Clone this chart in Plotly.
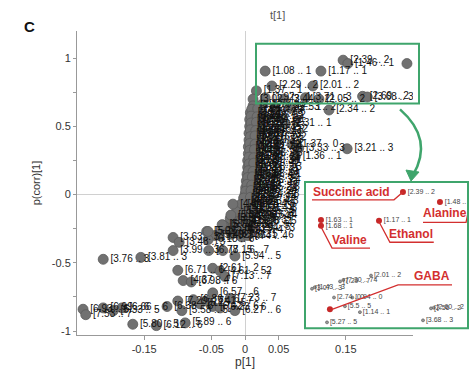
import plotly.graph_objects as go

W, H = 470, 369

# ---------------- main S-plot data ----------------
top_x = [0.030, 0.113, 0.146, 0.153, 0.241]
top_y = [0.905, 0.905, 0.985, 0.96, 0.96]
top_lbl = ["[1.08 .. 1", "[1.17 .. 1", "[2.39 .. 2", "[1.46 .. 1", "[1.48 .. 1"]

upper_x = [0.017, 0.040, 0.101, 0.012, 0.030, 0.058, 0.09, 0.11, 0.175, 0.182,
           0.012, 0.025, 0.045, 0.067, 0.125, 0.06, 0.07, 0.08, 0.075, 0.152]
upper_y = [0.76, 0.796, 0.796, 0.70, 0.71, 0.70, 0.71, 0.70, 0.72, 0.715,
           0.65, 0.66, 0.64, 0.635, 0.62, 0.52, 0.37, 0.34, 0.28, 0.336]
upper_lbl = ["[1.37 .. 1", "[2.29 .. 2", "[2.01 .. 2", "[3.02 .. 3", "[1.92 .. 1",
             "[2.44 .. 2", "[3.71 .. 3", "[2.05 .. 2", "[2.69 .. 2", "[3.68 .. 3",
             "[3.12 .. 3", "[2.73 .. 2", "[1.35 .. 1", "[2.53 .. 2", "[2.34 .. 2",
             "[2.31 .. 1", "[1.37 .. 0", "[3.33 .. 3", "[1.36 .. 1", "[3.21 .. 3"]

core_x = [0.008, 0.012, 0.017, 0.022,
          0.007, 0.011, 0.016, 0.021,
          0.007, 0.011, 0.015, 0.020, 0.025,
          0.006, 0.010, 0.015, 0.019,
          0.006, 0.010, 0.014, 0.018, 0.023,
          0.005, 0.009, 0.014, 0.018,
          0.005, 0.009, 0.013, 0.017,
          0.004, 0.008, 0.012, 0.016,
          0.004, 0.008, 0.012, 0.016,
          0.003, 0.007, 0.011, 0.015,
          0.002, 0.006, 0.010, 0.014,
          0.001, 0.005, 0.009, 0.013,
          0.000, 0.004, 0.008, 0.012,
          -0.002, 0.003, 0.007, 0.011,
          -0.005, 0.001, 0.006, 0.010,
          -0.010, -0.002, 0.004, 0.009,
          -0.018, -0.006, 0.002, 0.008,
          -0.028, -0.012, -0.001, 0.006,
          -0.038, -0.020, -0.005, 0.004]
core_y = [0.60, 0.59, 0.61, 0.58,
          0.55, 0.56, 0.54, 0.55,
          0.50, 0.49, 0.51, 0.50, 0.48,
          0.45, 0.46, 0.44, 0.45,
          0.40, 0.41, 0.39, 0.40, 0.42,
          0.35, 0.34, 0.36, 0.35,
          0.30, 0.31, 0.29, 0.30,
          0.25, 0.24, 0.26, 0.25,
          0.20, 0.21, 0.19, 0.20,
          0.15, 0.14, 0.16, 0.15,
          0.10, 0.11, 0.09, 0.10,
          0.05, 0.04, 0.06, 0.05,
          0.00, 0.01, -0.01, 0.00,
          -0.05, -0.06, -0.04, -0.05,
          -0.10, -0.09, -0.11, -0.10,
          -0.15, -0.16, -0.14, -0.15,
          -0.20, -0.19, -0.21, -0.20,
          -0.25, -0.26, -0.24, -0.25,
          -0.30, -0.29, -0.31, -0.30]
core_lbl = ["[2.12 .. 2", "[1.91 .. 1", "[3.26 .. 3", "[2.06 .. 2",
            "[1.29 .. 1", "[3.41 .. 3", "[2.48 .. 2", "[1.74 .. 1",
            "[3.55 .. 3", "[2.67 .. 2", "[1.22 .. 1", "[3.93 .. 3", "[2.15 .. 2",
            "[4.02 .. 4", "[1.53 .. 1", "[3.37 .. 3", "[2.88 .. 2",
            "[3.14 .. 3", "[2.21 .. 2", "[1.87 .. 1", "[3.59 .. 3", "[2.76 .. 2",
            "[1.41 .. 1", "[3.85 .. 3", "[2.93 .. 2", "[4.11 .. 4",
            "[2.57 .. 2", "[3.03 .. 3", "[1.66 .. 1", "[3.46 .. 3",
            "[3.72 .. 3", "[2.39 .. 2", "[4.25 .. 4", "[1.99 .. 1",
            "[2.83 .. 2", "[3.66 .. 3", "[1.31 .. 1", "[3.18 .. 3",
            "[4.33 .. 4", "[2.64 .. 2", "[3.52 .. 3", "[1.58 .. 1",
            "[3.09 .. 3", "[2.95 .. 2", "[3.78 .. 3", "[4.06 .. 4",
            "[2.45 .. 2", "[3.89 .. 3", "[1.82 .. 1", "[3.35 .. 3",
            "[3.96 .. 3", "[4.17 .. 4", "[2.72 .. 2", "[3.24 .. 3",
            "[4.45 .. 4", "[3.61 .. 3", "[2.87 .. 2", "[3.43 .. 3",
            "[4.21 .. 4", "[3.75 .. 3", "[4.58 .. 4", "[3.11 .. 3",
            "[5.12 .. 5", "[4.09 .. 4", "[3.83 .. 3", "[4.66 .. 4",
            "[5.41 .. 5", "[3.57 .. 3", "[4.38 .. 4", "[5.08 .. 5",
            "[5.66 .. 5", "[4.91 .. 4", "[5.23 .. 5", "[3.94 .. 3",
            "[6.02 .. 6", "[5.37 .. 5", "[4.74 .. 4", "[6.31 .. 6"]

mid_x = [0.010, 0.019, 0.009, 0.018, 0.009, 0.017, 0.008, 0.016, 0.008, 0.015,
         0.007, 0.015, 0.007, 0.014, 0.006, 0.013, 0.006, 0.013, 0.005, 0.012,
         0.004, 0.011, 0.003, 0.010, 0.001, 0.009, -0.002, 0.008, -0.007, 0.006,
         -0.013, 0.004, -0.022, 0.001, -0.032, -0.003]
mid_y = [0.625, 0.63, 0.575, 0.57, 0.525, 0.53, 0.475, 0.47, 0.425, 0.43,
         0.375, 0.37, 0.325, 0.33, 0.275, 0.27, 0.225, 0.23, 0.175, 0.17,
         0.125, 0.13, 0.075, 0.07, 0.025, 0.03, -0.025, -0.02, -0.075, -0.07,
         -0.125, -0.13, -0.175, -0.17, -0.225, -0.23]
mid_lbl = ["[2.26 .. 2", "[3.17 .. 3", "[1.44 .. 1", "[2.98 .. 2", "[3.32 .. 3", "[2.11 .. 2",
           "[1.77 .. 1", "[3.64 .. 3", "[2.52 .. 2", "[3.07 .. 3", "[4.14 .. 4", "[2.36 .. 2",
           "[3.49 .. 3", "[1.95 .. 1", "[2.79 .. 2", "[3.87 .. 3", "[4.29 .. 4", "[2.61 .. 2",
           "[3.21 .. 3", "[1.62 .. 1", "[3.98 .. 3", "[2.47 .. 2", "[4.41 .. 4", "[3.53 .. 3",
           "[2.91 .. 2", "[4.05 .. 4", "[3.69 .. 3", "[4.52 .. 4", "[4.87 .. 4", "[3.28 .. 3",
           "[5.19 .. 5", "[4.63 .. 4", "[5.55 .. 5", "[4.96 .. 4", "[5.84 .. 5", "[5.02 .. 5"]

lower_x = [-0.018, -0.021, -0.034, -0.057, -0.045, -0.055,
           -0.211, -0.155, -0.107, -0.098, -0.107, -0.055, -0.054, -0.033, -0.015,
           -0.100, -0.092, -0.080, -0.048, -0.037, -0.030, -0.048,
           -0.241, -0.237, -0.211, -0.196, -0.183, -0.167, -0.132, -0.116,
           -0.100, -0.094, -0.089, -0.077, -0.067, -0.057, -0.048, -0.037, -0.022, -0.015]
lower_y = [-0.07, -0.15, -0.22, -0.27, -0.30, -0.33,
           -0.474, -0.46, -0.314, -0.35, -0.41, -0.27, -0.41, -0.41, -0.45,
           -0.555, -0.63, -0.64, -0.54, -0.56, -0.60, -0.72,
           -0.84, -0.88, -0.83, -0.85, -0.83, -0.95, -0.96, -0.82,
           -0.78, -0.85, -0.94, -0.77, -0.80, -0.78, -0.82, -0.83, -0.76, -0.85]
lower_lbl = ["[4.88 .. 4", "[5.31 .. 5", "[5.72 .. 5", "[5.02 .. 5", "[5.49 .. 5", "[6.18 .. 6",
             "[3.76 .. 3", "[3.81 .. 3", "[3.63 .. 3", "[3.48 .. 3", "[3.99 .. 3", "[5.16 .. 6",
             "[6.78 .. 6", "[7.15 .. 7", "[5.94 .. 5",
             "[6.71 .. 6", "[4.37 .. 4", "[6.98 .. 6", "[2.61 .. 2", "[4.61 .. 52", "[7.13 .. 7", "[6.57 .. 6",
             "[6.93 .. 6", "[7.53 .. 7", "[6.99 .. 6", "[5.33 .. 5", "[6.66 .. 6", "[5.80 .. 5",
             "[6.12 .. 6", "[6.38 .. 6",
             "[7.29 .. 7", "[5.58 .. 5", "[5.89 .. 6", "[6.86 .. 6", "[5.25 .. 5", "[7.41 .. 7",
             "[6.42 .. 6", "[6.23 .. 6", "[7.23 .. 7", "[6.27 .. 6"]

# ---------------- inset data (zoomed view, inset units 0..1) ----------------
red_u = [0.601, 0.098, 0.098, 0.454, 0.828, 0.153]
red_v = [0.932, 0.741, 0.700, 0.735, 0.864, 0.129]
red_lbl = ["[2.39 .. 2", "[1.63 .. 1", "[1.68 .. 1", "[1.17 .. 1", "[1.48 .. 1", ""]

dot_u = [0.215, 0.235, 0.405, 0.043, 0.060, 0.178, 0.290, 0.245, 0.337, 0.135, 0.773, 0.790, 0.724]
dot_v = [0.320, 0.330, 0.360, 0.270, 0.280, 0.210, 0.210, 0.150, 0.110, 0.040, 0.136, 0.140, 0.054]
dot_lbl = ["[7.29 .. 7", "[7.30 .. 74", "[2.01 .. 2", "[3.07 .. 3", "[1.43 .. 3", "[2.74 .. 0",
           "[0.94 .. 0", "[5.5 .. 5", "[1.14 .. 1", "[5.27 .. 5", "[2.56 .. 2", "[2.60 .. 2", "[3.68 .. 3"]

names = ["Succinic acid", "Valine", "Ethanol", "Alanine", "GABA"]
name_u = [0.288, 0.276, 0.650, 0.859, 0.779]
name_v = [0.935, 0.602, 0.642, 0.785, 0.357]

GREEN = "#3fa56c"
RED = "#d32f2f"

main_x = top_x + upper_x + core_x + mid_x + lower_x
main_y = top_y + upper_y + core_y + mid_y + lower_y
main_lbl = top_lbl + upper_lbl + core_lbl + mid_lbl + lower_lbl

fig = go.Figure()
fig.add_trace(go.Scatter(
    x=main_x, y=main_y, text=main_lbl, mode="markers+text", textposition="middle right",
    marker=dict(size=10, color="#717171", line=dict(color="#5a5a5a", width=0.8)),
    textfont=dict(family="Liberation Sans, Arial", size=10, color="#111111"),
    cliponaxis=True, hoverinfo="skip", showlegend=False, xaxis="x", yaxis="y"))

fig.add_trace(go.Scatter(
    x=dot_u, y=dot_v, text=dot_lbl, mode="markers+text", textposition="middle right",
    marker=dict(size=3, color="#999", line=dict(color="#555", width=0.6)),
    textfont=dict(family="Liberation Sans, Arial", size=7, color="#444"),
    hoverinfo="skip", showlegend=False, xaxis="x2", yaxis="y2"))

fig.add_trace(go.Scatter(
    x=red_u, y=red_v, text=red_lbl, mode="markers+text", textposition="middle right",
    marker=dict(size=6, color="#c62828"),
    textfont=dict(family="Liberation Sans, Arial", size=7, color="#444"),
    hoverinfo="skip", showlegend=False, xaxis="x2", yaxis="y2"))

shapes = []
callouts = [
    [(0.043, 0.878), (0.546, 0.878), (0.601, 0.932)],
    [(0.098, 0.694), (0.166, 0.548), (0.399, 0.548)],
    [(0.454, 0.728), (0.521, 0.588), (0.79, 0.588)],
    [(0.724, 0.724), (0.988, 0.724), (1.0, 0.79)],
    [(0.902, 0.296), (0.571, 0.296), (0.166, 0.129)],
]
for pts in callouts:
    path = "M " + " L ".join(f"{u},{v}" for u, v in pts)
    shapes.append(dict(type="path", xref="x2", yref="y2", path=path,
                       line=dict(color=RED, width=1.3)))

def P(x, y):
    return f"{x / W:.4f},{1 - y / H:.4f}"

shapes.append(dict(type="rect", xref="paper", yref="paper", x0=256 / W, x1=419 / W,
                   y0=1 - 104 / H, y1=1 - 44 / H, line=dict(color=GREEN, width=2), layer="above"))
shapes.append(dict(type="rect", xref="paper", yref="paper", x0=305 / W, x1=468 / W,
                   y0=1 - 330 / H, y1=1 - 183 / H, line=dict(color=GREEN, width=2), layer="above"))
shapes.append(dict(type="path", xref="paper", yref="paper",
                   path=f"M {P(400, 110)} Q {P(434, 140)} {P(413, 176)}",
                   line=dict(color=GREEN, width=2.5)))
shapes.append(dict(type="path", xref="paper", yref="paper",
                   path=f"M {P(406, 171)} L {P(419, 173)} L {P(411, 182)} Z",
                   fillcolor=GREEN, line=dict(color=GREEN, width=1)))

annotations = [
    dict(text="t[1]", x=277 / W, y=1 - 7 / H, xref="paper", yref="paper", showarrow=False,
         font=dict(family="Liberation Sans, Arial", size=11, color="#555")),
    dict(text="<b>C</b>", x=22 / W, y=1 - 16 / H, xref="paper", yref="paper", showarrow=False,
         font=dict(family="Liberation Sans, Arial", size=15, color="#111")),
]
for n, u, v in zip(names, name_u, name_v):
    annotations.append(dict(text=f"<b>{n}</b>", x=u, y=v, xref="x2", yref="y2", showarrow=False,
                            font=dict(family="Liberation Sans, Arial", size=12, color=RED)))

fig.update_layout(
    width=W, height=H, margin=dict(l=0, r=0, t=0, b=0),
    paper_bgcolor="white", plot_bgcolor="white",
    font=dict(family="Liberation Sans, Arial", size=11, color="#333"),
    shapes=shapes, annotations=annotations,
    xaxis=dict(domain=[77 / W, 413 / W], range=[-0.25, 0.25],
               tickvals=[-0.15, -0.05, 0, 0.05, 0.15],
               ticktext=["-0.15", "-0.05", "0", "0.05", "0.15"],
               ticks="outside", ticklen=4, tickcolor="#999", showgrid=False,
               showline=True, linecolor="#999", linewidth=1,
               zeroline=True, zerolinecolor="#d0d0d0", zerolinewidth=1,
               tickfont=dict(size=11, color="#333"),
               title=dict(text="p[1]", standoff=0, font=dict(size=12, color="#333"))),
    yaxis=dict(domain=[(H - 337) / H, (H - 31) / H], range=[-1.03, 1.2],
               tickvals=[-1, -0.5, 0, 0.5, 1], ticktext=["-1", "-0.5", "0", "0.5", "1"],
               ticks="outside", ticklen=3, tickcolor="#999", showgrid=False,
               minor=dict(dtick=0.25, ticks="outside", ticklen=3, tickcolor="#999", showgrid=False),
               showline=True, linecolor="#999", linewidth=1,
               zeroline=True, zerolinecolor="#d0d0d0", zerolinewidth=1,
               tickfont=dict(size=11, color="#333"),
               title=dict(text="p(corr)[1]", standoff=8, font=dict(size=11, color="#333"))),
    xaxis2=dict(domain=[305 / W, 468 / W], range=[0, 1], anchor="y2", visible=False, fixedrange=True),
    yaxis2=dict(domain=[(H - 330) / H, (H - 183) / H], range=[0, 1], anchor="x2", visible=False,
                fixedrange=True),
)

fig.write_html("out.html", config={"displayModeBar": False, "staticPlot": True},
               post_script="document.body.style.margin='0';document.body.style.overflow='hidden';")
